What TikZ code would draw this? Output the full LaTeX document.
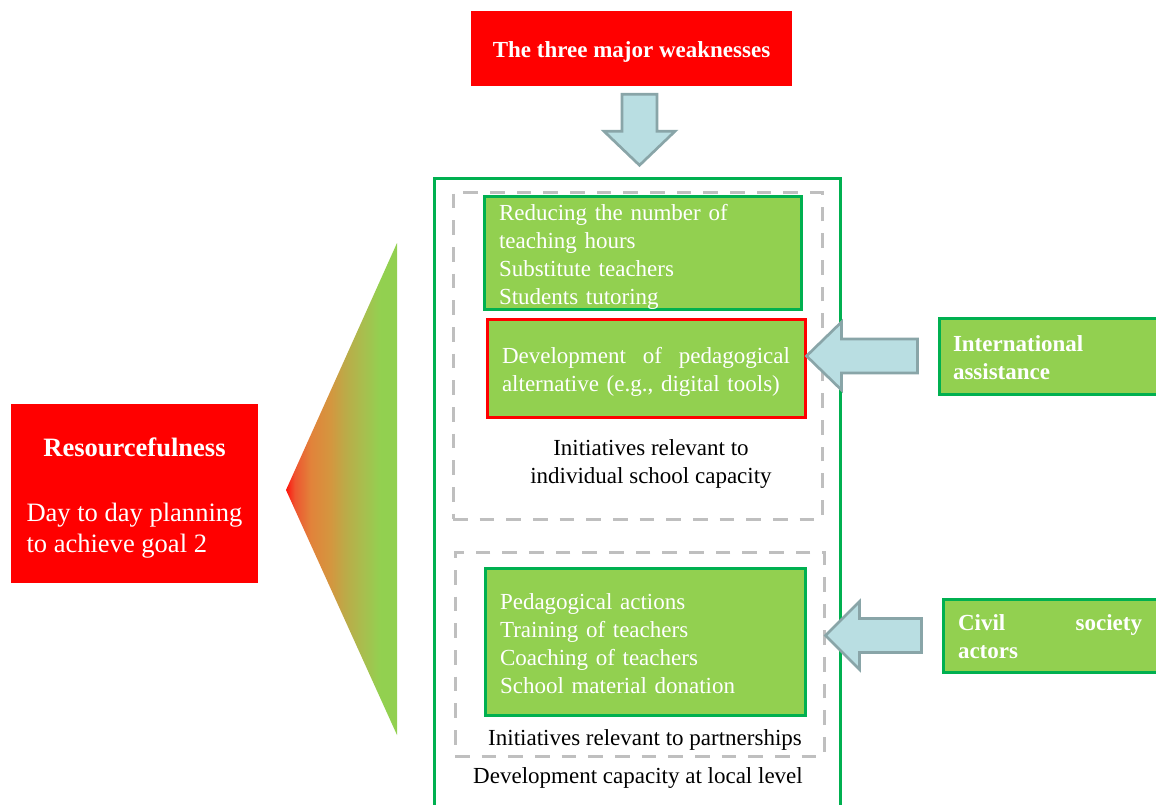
\documentclass[tikz,border=0pt]{standalone}
\usepackage{fontspec}
\setmainfont{Liberation Serif}
\usetikzlibrary{calc}
\definecolor{gfill}{HTML}{92D050}
\definecolor{gline}{HTML}{00B050}
\definecolor{dgray}{HTML}{BFBFBF}
\definecolor{afill}{HTML}{B9DEE2}
\definecolor{aline}{HTML}{89A5A8}
\pgfdeclarehorizontalshading{trishade}{100bp}{rgb(0bp)=(1,0.08,0.05); rgb(25bp)=(1,0.08,0.05); rgb(29bp)=(0.933,0.333,0.188); rgb(36bp)=(0.886,0.51,0.227); rgb(45bp)=(0.831,0.588,0.247); rgb(51.5bp)=(0.737,0.667,0.282); rgb(60.5bp)=(0.651,0.753,0.31); rgb(67.5bp)=(0.573,0.816,0.314); rgb(100bp)=(0.573,0.816,0.314)}
\begin{document}
\begin{tikzpicture}[x=0.75pt,y=-0.75pt,
  mainfont/.style={font=\fontsize{17.25}{21}\selectfont},
  boldfont/.style={font=\fontsize{17.25}{21}\selectfont\bfseries},
  gbox/.style={draw=gline, fill=gfill, line width=2.25pt, text=white, align=left, inner xsep=11.25pt, inner ysep=0pt, mainfont},
  dbox/.style={draw=dgray, line width=2.25pt, dash pattern=on 11pt off 9pt},
  blockarrow/.style={fill=afill, draw=aline, line width=2pt, line join=miter},
  redbox/.style={fill=red, text=white, inner ysep=0pt},
  sink/.style={execute at begin node={\rule{0pt}{#1}}}]
\useasboundingbox (0,0) rectangle (1156,804);
\clip (0,0) rectangle (1156,804);

% gradient triangle
\shade[shading=trishade] (286,490) -- (397,243) -- (397,735) -- cycle;

% outer box and dashed groups
\node[draw=gline, line width=2.25pt, minimum width=304.5pt, minimum height=483pt] (outer) at (637,500) {};
\node[dbox, minimum width=276.75pt, minimum height=245.25pt] (d1) at (637.5,355.5) {};
\node[dbox, minimum width=276.75pt, minimum height=153pt] (d2) at (639.5,654) {};

% title
\node[redbox, boldfont, minimum width=240.75pt, minimum height=56.25pt, text height=18pt, text depth=4pt] (title) at (631.5,48.5) {The three major weaknesses};

% inner boxes
\node[gbox, sink=18pt, minimum width=237.75pt, minimum height=84pt, text width=215.25pt] (g1) at (642.5,253)
  {Reducing the number of\\teaching hours\\Substitute teachers\\Students tutoring};
\node[gbox, sink=18pt, draw=red, minimum width=238.5pt, minimum height=73.5pt, text width=216pt] (dev) at (646,368)
  {\hbox to 216pt{Development\hfil of\hfil pedagogical}\\alternative (e.g., digital tools)};
\node[mainfont, align=center] (l1) at (651,464) {Initiatives relevant to\\individual school capacity};
\node[gbox, sink=14.8pt, minimum width=240pt, minimum height=110.25pt, text width=217.5pt] (g2) at (645,641.5)
  {Pedagogical actions\\Training of teachers\\Coaching of teachers\\School material donation};
\node[mainfont] (l2) at (645,740) {Initiatives relevant to partnerships};
\node[mainfont] (l3) at (638,778) {Development capacity at local level};

% right boxes
\node[gbox, boldfont, sink=14.8pt, minimum width=165.75pt, minimum height=57pt, text width=144.75pt, inner xsep=10.5pt] (intl) at (1049.5,356)
  {International\\assistance};
\node[gbox, boldfont, sink=13.3pt, minimum width=162.75pt, minimum height=54.75pt, text width=140.25pt] (civil) at (1051.5,635.5)
  {\hbox to 138pt{Civil\hfil society}\\actors};

% left box
\node[redbox, align=left, minimum width=185.25pt, minimum height=134.25pt, font=\fontsize{19.9}{23.25}\selectfont] (res) at (134.5,493.5)
  {\rule{0pt}{20.4pt}\hbox to 162pt{\hss\bfseries Resourcefulness\hss}\\[25.5pt]Day to day planning\\to achieve goal 2};

% block arrows
\coordinate (dtop) at ($(title.south)+(8,8)$);
\draw[blockarrow, shift={(dtop)}] (-17.5,0) -- (17.5,0) -- (17.5,37) -- (35.5,37) -- (0,71) -- (-35.5,37) -- (-17.5,37) -- cycle;

\coordinate (itip) at (dev.east |- intl.west);
\coordinate (iend) at ($(intl.west)+(-20,0)$);
\draw[blockarrow] (itip) -- ($(itip)+(35,-34)$) -- ($(itip)+(35,-17)$) -- ($(iend)+(0,-17)$) -- ($(iend)+(0,17)$) -- ($(itip)+(35,17)$) -- ($(itip)+(35,34)$) -- cycle;

\coordinate (ctip) at (d2.east |- civil.west);
\coordinate (cend) at ($(civil.west)+(-20,0)$);
\draw[blockarrow] (ctip) -- ($(ctip)+(34,-34)$) -- ($(ctip)+(34,-17)$) -- ($(cend)+(0,-17)$) -- ($(cend)+(0,17)$) -- ($(ctip)+(34,17)$) -- ($(ctip)+(34,34)$) -- cycle;
\end{tikzpicture}
\end{document}
